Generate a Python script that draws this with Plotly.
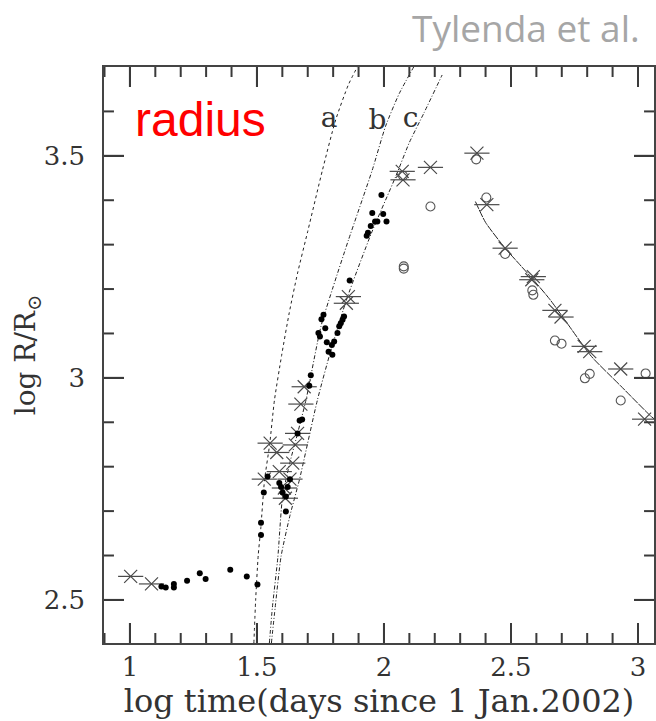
import plotly.graph_objects as go

# ---------------- data ----------------
dots_x = [1.124, 1.141, 1.173, 1.173, 1.225, 1.275, 1.298, 1.395, 1.460, 1.502,
          1.516, 1.516, 1.527, 1.542,
          1.588, 1.595, 1.621, 1.601, 1.614, 1.614, 1.630, 1.660, 1.668, 1.678,
          1.706, 1.712,
          1.742, 1.748, 1.754, 1.762, 1.769, 1.775, 1.782, 1.797, 1.795, 1.804,
          1.817, 1.824, 1.830, 1.837, 1.843, 1.865,
          1.932, 1.937, 1.948, 1.954, 1.965, 1.974, 1.990, 1.997, 2.010]
dots_y = [2.530, 2.528, 2.536, 2.528, 2.543, 2.560, 2.547, 2.568, 2.553, 2.535,
          2.646, 2.674, 2.742, 2.778,
          2.763, 2.754, 2.754, 2.742, 2.733, 2.699, 2.772, 2.875, 2.904, 2.906,
          2.982, 3.006,
          3.101, 3.093, 3.132, 3.142, 3.112, 3.080, 3.059, 3.052, 3.074, 3.082,
          3.101, 3.116, 3.123, 3.131, 3.138, 3.219,
          3.320, 3.327, 3.342, 3.371, 3.352, 3.352, 3.412, 3.369, 3.352]

stars_x = [1.003, 1.085, 1.529, 1.552, 1.578, 1.588, 1.608, 1.612, 1.630, 1.641,
           1.651, 1.660, 1.673, 1.686, 1.852, 1.860, 2.072, 2.075, 2.183, 2.366,
           2.405, 2.477, 2.582, 2.588, 2.673, 2.697, 2.788, 2.810, 2.932, 3.026]
stars_y = [2.553, 2.536, 2.772, 2.853, 2.832, 2.789, 2.752, 2.729, 2.772, 2.808,
           2.849, 2.875, 2.941, 2.980, 3.168, 3.183, 3.465, 3.446, 3.474, 3.506,
           3.390, 3.292, 3.221, 3.228, 3.152, 3.137, 3.071, 3.059, 3.020, 2.907]

circ_x = [2.075, 2.078, 2.078, 2.183, 2.363, 2.403, 2.477, 2.584, 2.588, 2.673,
          2.699, 2.791, 2.810, 2.932, 3.030]
circ_y = [3.455, 3.251, 3.246, 3.386, 3.492, 3.406, 3.279, 3.197, 3.187, 3.084,
          3.077, 2.999, 3.009, 2.949, 3.010]

curve_a_x = [1.488, 1.495, 1.505, 1.515, 1.530, 1.550, 1.569, 1.597, 1.627, 1.660,
             1.700, 1.758, 1.810, 1.860, 1.895]
curve_a_y = [2.403, 2.500, 2.600, 2.660, 2.770, 2.850, 2.950, 3.050, 3.146, 3.236,
             3.330, 3.468, 3.581, 3.660, 3.700]

curve_b_x = [1.549, 1.561, 1.582, 1.601, 1.630, 1.660, 1.693, 1.752, 1.800, 1.860,
             1.954, 2.006, 2.060, 2.118]
curve_b_y = [2.403, 2.484, 2.594, 2.733, 2.810, 2.875, 2.950, 3.116, 3.205, 3.310,
             3.468, 3.566, 3.640, 3.701]

curve_c_x = [1.557, 1.572, 1.595, 1.630, 1.667, 1.738, 1.790, 1.855, 1.950, 2.046,
             2.100, 2.157, 2.229]
curve_c_y = [2.403, 2.484, 2.598, 2.690, 2.770, 2.950, 3.060, 3.180, 3.325, 3.453,
             3.530, 3.596, 3.682]

decline_x = [2.360, 2.400, 2.477, 2.530, 2.588, 2.654, 2.720, 2.817, 2.930, 3.052, 3.070]
decline_y = [3.397, 3.350, 3.292, 3.258, 3.221, 3.176, 3.124, 3.048, 2.983, 2.913, 2.905]

x_ticks = [1, 1.5, 2, 2.5, 3]
x_tick_labels = ["1", "1.5", "2", "2.5", "3"]
y_ticks = [2.5, 3, 3.5]
y_tick_labels = ["2.5", "3", "3.5"]
x_minor_ticks = [0.9, 1.1, 1.2, 1.3, 1.4, 1.6, 1.7, 1.8, 1.9, 2.1, 2.2, 2.3, 2.4,
                 2.6, 2.7, 2.8, 2.9]
y_minor_ticks = [2.6, 2.7, 2.8, 2.9, 3.1, 3.2, 3.3, 3.4, 3.6]

curve_labels = ["a", "b", "c"]
curve_label_x = [1.784, 1.974, 2.105]
curve_label_y = [3.581, 3.577, 3.581]

# ---------------- layout geometry ----------------
X_RANGE = [0.898, 3.063]
Y_RANGE = [2.403, 3.700]
MARGIN = dict(l=104, r=0, t=67, b=78)
W, H = 656, 721
PLOT_W = W - MARGIN["l"] - MARGIN["r"]
PLOT_H = H - MARGIN["t"] - MARGIN["b"]
X_PER_PX = (X_RANGE[1] - X_RANGE[0]) / PLOT_W
Y_PER_PX = (Y_RANGE[1] - Y_RANGE[0]) / PLOT_H
MAJOR_LEN, MINOR_LEN = 20, 10

SERIF = "DejaVu Serif"
INK = "#333333"
TICK = "#3a3a3a"
fig = go.Figure()


def tick_segments(xvals, yvals, length):
    """Inward tick segments on all four sides for the given tick values."""
    xs, ys = [], []
    dy = length * Y_PER_PX
    for v in xvals:
        xs += [v, v, None, v, v, None]
        ys += [Y_RANGE[0], Y_RANGE[0] + dy, None, Y_RANGE[1], Y_RANGE[1] - dy, None]
    dx = length * X_PER_PX
    for v in yvals:
        xs += [X_RANGE[0], X_RANGE[0] + dx, None, X_RANGE[1], X_RANGE[1] - dx, None]
        ys += [v, v, None, v, v, None]
    return xs, ys


def add_curve(xs, ys, dash, width=1.0):
    fig.add_trace(go.Scatter(x=xs, y=ys, mode="lines",
                             line=dict(color="#222222", width=width, dash=dash,
                                       shape="spline", smoothing=0.6),
                             showlegend=False, hoverinfo="skip"))


add_curve(curve_a_x, curve_a_y, "dot", 1.0)
add_curve(curve_b_x, curve_b_y, "4px,2px,1px,2px", 1.0)
add_curve(curve_c_x, curve_c_y, "4px,2px,1px,2px", 1.0)
add_curve(decline_x, decline_y, "8px,1px", 1.0)

fig.add_trace(go.Scatter(x=circ_x, y=circ_y, mode="markers",
                         marker=dict(symbol="circle-open", size=9, color="#555555",
                                     line=dict(width=1.1, color="#555555")),
                         showlegend=False))
fig.add_trace(go.Scatter(x=stars_x, y=stars_y, mode="markers",
                         marker=dict(symbol="x-thin-open", size=13, color="#4a4a4a",
                                     line=dict(width=1.2, color="#4a4a4a")),
                         showlegend=False))
fig.add_trace(go.Scatter(x=stars_x, y=stars_y, mode="markers",
                         marker=dict(symbol="line-ew-open", size=18, color="#4a4a4a",
                                     line=dict(width=1.2, color="#4a4a4a")),
                         showlegend=False))
fig.add_trace(go.Scatter(x=dots_x, y=dots_y, mode="markers",
                         marker=dict(symbol="circle", size=6, color="black"),
                         showlegend=False))

# major and minor inward ticks as separate line traces
for xv, yv, L in ((x_ticks, y_ticks, MAJOR_LEN), (x_minor_ticks, y_minor_ticks, MINOR_LEN)):
    tx, ty = tick_segments(xv, yv, L)
    fig.add_trace(go.Scatter(x=tx, y=ty, mode="lines", connectgaps=False,
                             line=dict(color=TICK, width=2, shape="linear"),
                             showlegend=False, hoverinfo="skip"))

fig.add_trace(go.Scatter(x=curve_label_x, y=curve_label_y, mode="text",
                         text=curve_labels,
                         textfont=dict(family=SERIF, size=28, color=INK),
                         showlegend=False, hoverinfo="skip"))

axis_style = dict(
    showgrid=False, zeroline=False, showline=True, mirror="allticks",
    linecolor="#444444", linewidth=1.5,
    ticks="inside", ticklen=MAJOR_LEN, tickwidth=2, tickcolor=TICK,
    tickfont=dict(family=SERIF, size=26, color=INK),
)

fig.update_xaxes(range=X_RANGE, tickmode="array",
                 tickvals=x_ticks, ticktext=x_tick_labels,
                 title=dict(text="log time(days since 1 Jan.2002)",
                            font=dict(family=SERIF, size=32, color=INK),
                            standoff=0),
                 **axis_style)
fig.update_yaxes(range=Y_RANGE, tickmode="array",
                 tickvals=y_ticks, ticktext=y_tick_labels,
                 ticklabelstandoff=12,
                 title=dict(text="log R/R<sub>⊙</sub>",
                            font=dict(family=SERIF, size=28, color=INK),
                            standoff=0),
                 **axis_style)

fig.add_annotation(text="radius", xref="paper", yref="paper", x=0.176, y=0.908,
                   showarrow=False, xanchor="center", yanchor="middle",
                   font=dict(family="Liberation Sans", size=48, color="#ff0000"))
fig.add_annotation(text="Tylenda et al.", xref="paper", yref="paper", x=0.768, y=1.068,
                   showarrow=False, xanchor="center", yanchor="middle",
                   font=dict(family="Open Sans", size=37, color="#a6a6a6"))

fig.update_layout(width=W, height=H, margin=MARGIN,
                  paper_bgcolor="white", plot_bgcolor="white")

fig.write_html("out.html")
